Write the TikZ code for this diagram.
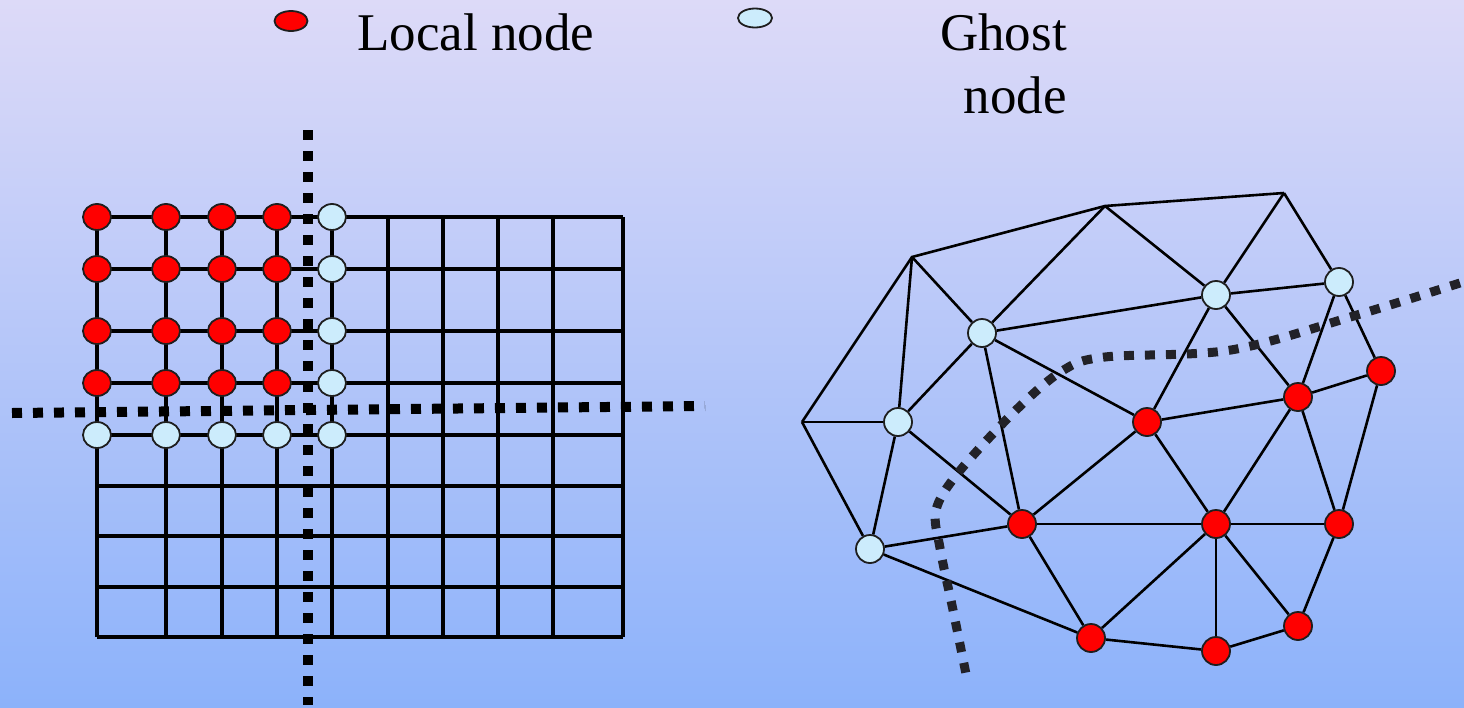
\documentclass[tikz,border=0pt]{standalone}
\usepackage{fontspec}
\setmainfont{Liberation Serif}
\usetikzlibrary{shapes.geometric}
\definecolor{bgtop}{RGB}{221,218,248}
\definecolor{bgbot}{RGB}{140,178,250}
\definecolor{ghostfill}{RGB}{204,236,252}
\definecolor{nodeedge}{RGB}{30,30,30}
\definecolor{cutgray}{RGB}{34,34,40}
\newcommand\legendfont{\fontsize{53}{63}\selectfont}
\tikzset{
  localn/.style={ellipse, draw=nodeedge, line width=1.8pt, fill=red, minimum width=28pt, minimum height=26pt, inner sep=0pt},
  ghostn/.style={ellipse, draw=nodeedge, line width=1.8pt, fill=ghostfill, minimum width=28pt, minimum height=26pt, inner sep=0pt},
  mlocal/.style={localn, minimum width=28pt, minimum height=28pt},
  mghost/.style={ghostn, minimum width=28pt, minimum height=28pt},
  gridline/.style={line width=3.2pt, black},
  meshline/.style={line width=2.6pt, black},
  cutline/.style={line width=10pt, black, dash pattern=on 10pt off 11pt},
  cutcurve/.style={line width=9pt, cutgray, dash pattern=on 10pt off 11pt},
  legtext/.style={font=\legendfont, inner sep=0pt, text=black}
}
\begin{document}
\begin{tikzpicture}[x=1pt,y=-1pt]
\shade[top color=bgtop,bottom color=bgbot] (0,0) rectangle (1464,707);
\useasboundingbox (0,0) rectangle (1464,707);

% legend
\node[localn, minimum width=33pt, minimum height=20pt] (legl) at (291,21) {};
\node[ghostn, minimum width=34pt, minimum height=19pt] (legg) at (755,18) {};
\node[legtext, anchor=base west] (ltext) at (357,50) {Local node};
\node[legtext, anchor=base east, align=right] (gtext) at (1067,113) {Ghost\\node};

% structured grid
\foreach \y in {217,269,331,383,435,486,536,587,637}
  \draw[gridline] (97,\y) -- (623,\y);
\foreach \x in {97,166,222,277,332,388,443,498,553,623}
  \draw[gridline] (\x,217) -- (\x,637);

\draw[cutline] (308,130) -- (308,705);
\draw[cutline] (12,413) -- (705,406);

\foreach \x [count=\i] in {97,166,222,277} {
  \foreach \y [count=\j] in {217,269,331,383}
    \node[localn] (l\i\j) at (\x,\y) {};
  \node[ghostn] (gb\i) at (\x,435) {};
}
\foreach \y [count=\j] in {217,269,331,383,435}
  \node[ghostn] (gr\j) at (332,\y) {};

% unstructured mesh
\coordinate (P0) at (802,422);
\coordinate (P1) at (912,257);
\coordinate (P2) at (1105,206);
\coordinate (P3) at (1284,193);
\node[mghost] (G1) at (982,333) {};
\node[mghost] (G2) at (1216,295) {};
\node[mghost] (G3) at (1339,282) {};
\node[mghost] (G4) at (898,422) {};
\node[mghost] (G5) at (870,549) {};
\node[mlocal] (R1) at (1147,422) {};
\node[mlocal] (R2) at (1298,397) {};
\node[mlocal] (R3) at (1381,371) {};
\node[mlocal] (R4) at (1022,524) {};
\node[mlocal] (R5) at (1216,524) {};
\node[mlocal] (R6) at (1339,524) {};
\node[mlocal] (R7) at (1091,638) {};
\node[mlocal] (R8) at (1216,651) {};
\node[mlocal] (R9) at (1298,626) {};

\draw[meshline] (P0) -- (P1) -- (P2) -- (P3);
\draw[meshline] (P0) -- (G4);
\draw[meshline] (P0) -- (G5);
\draw[meshline] (P1) -- (G4);
\draw[meshline] (P1) -- (G1);
\draw[meshline] (P2) -- (G1);
\draw[meshline] (P2) -- (G2);
\draw[meshline] (P3) -- (G2);
\draw[meshline] (P3) -- (G3);
\draw[meshline] (G1) -- (G2);
\draw[meshline] (G2) -- (G3);
\draw[meshline] (G1) -- (G4);
\draw[meshline] (G1) -- (R1);
\draw[meshline] (G1) -- (R4);
\draw[meshline] (G4) -- (R4);
\draw[meshline] (G4) -- (G5);
\draw[meshline] (G5) -- (R4);
\draw[meshline] (G5) -- (R7);
\draw[meshline] (R4) -- (R1);
\draw[meshline] (R4) -- (R5);
\draw[meshline] (R4) -- (R7);
\draw[meshline] (R1) -- (G2);
\draw[meshline] (R1) -- (R2);
\draw[meshline] (R1) -- (R5);
\draw[meshline] (G2) -- (R2);
\draw[meshline] (G3) -- (R2);
\draw[meshline] (G3) -- (R3);
\draw[meshline] (R2) -- (R3);
\draw[meshline] (R2) -- (R5);
\draw[meshline] (R2) -- (R6);
\draw[meshline] (R3) -- (R6);
\draw[meshline] (R5) -- (R6);
\draw[meshline] (R5) -- (R7);
\draw[meshline] (R5) -- (R8);
\draw[meshline] (R5) -- (R9);
\draw[meshline] (R6) -- (R9);
\draw[meshline] (R7) -- (R8);
\draw[meshline] (R8) -- (R9);

\draw[cutcurve] plot[smooth, tension=0.55] coordinates {(1460,283) (1357,315) (1231,350) (1105,357) (1062,371) (1014,412) (958,473) (936,510) (940,548) (953,610) (966,674)};
\end{tikzpicture}
\end{document}
